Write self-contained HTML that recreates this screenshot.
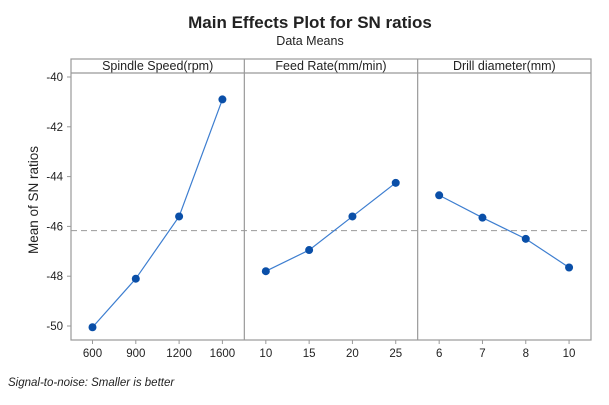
<!DOCTYPE html>
<html><head><meta charset="utf-8"><style>
body{margin:0;background:#fff;}
svg{display:block;font-family:"Liberation Sans",sans-serif;}
</style></head><body>
<svg width="609" height="405" xmlns="http://www.w3.org/2000/svg">
<text x="310" y="28" text-anchor="middle" font-size="17" font-weight="bold" fill="#222">Main Effects Plot for SN ratios</text>
<text x="310" y="45" text-anchor="middle" font-size="12.5" fill="#222">Data Means</text>
<text transform="translate(38,200) rotate(-90)" text-anchor="middle" font-size="13.5" fill="#222">Mean of SN ratios</text>
<text x="8" y="386" font-size="11.5" font-style="italic" fill="#222">Signal-to-noise: Smaller is better</text>
<g id="plot"></g>
</svg>
<script>
const panelTitles = ["Spindle Speed(rpm)", "Feed Rate(mm/min)", "Drill diameter(mm)"];
const levels1 = ["600", "900", "1200", "1600"];
const levels2 = ["10", "15", "20", "25"];
const levels3 = ["6", "7", "8", "10"];
const values1 = [-50.05, -48.1, -45.6, -40.9];
const values2 = [-47.8, -46.95, -45.6, -44.25];
const values3 = [-44.75, -45.65, -46.5, -47.65];
const yTicks = [-50, -48, -46, -44, -42, -40];
const meanLine = -46.17;

const NS = "http://www.w3.org/2000/svg";
const g = document.getElementById("plot");
const L = 71, R = 591, T = 59, SB = 73, B = 340;
const pw = (R - L) / 3;
function y(v){ return 326 + (v - (-50)) * (-24.9); }
function x(p, i){ return L + p*pw + 21.5 + i * 43.3; }
function el(tag, attrs){ const e = document.createElementNS(NS, tag); for (const k in attrs) e.setAttribute(k, attrs[k]); g.appendChild(e); return e; }

const levels = [levels1, levels2, levels3];
const values = [values1, values2, values3];

let f = el("rect", {x:L, y:T, width:R-L, height:B-T, fill:"none", stroke:"#999", "stroke-width":1.2});


let sl = el("line", {x1:L, x2:R, y1:SB, y2:SB, stroke:"#999", "stroke-width":1.2});


for (let p = 1; p < 3; p++) {
  const d = el("line", {x1:L+p*pw, x2:L+p*pw, y1:T, y2:B, stroke:"#999", "stroke-width":1.2});
  
  
}
yTicks.forEach(v => {
  const t = el("line", {x1:L-4, x2:L, y1:y(v), y2:y(v), stroke:"#999"});
  
  
  const lb = el("text", {x:L-8, y:y(v)+4, "text-anchor":"end", "font-size":"11.5", fill:"#222"});
  lb.textContent = v;
  
  
});
const ml = el("line", {x1:L, x2:R, y1:y(meanLine), y2:y(meanLine), stroke:"#999", "stroke-dasharray":"6 4", "stroke-width":1});



for (let p = 0; p < 3; p++) {
  const st = el("text", {x:L+p*pw+pw/2, y:T+11, "text-anchor":"middle", "font-size":"12.5", fill:"#222"});
  st.textContent = panelTitles[p];
  
  
  const pts = values[p].map((v,i) => x(p,i)+","+y(v)).join(" ");
  const pl = el("polyline", {points:pts, fill:"none", stroke:"#3d7ed0", "stroke-width":1.2});
  
  
  levels[p].forEach((lv, i) => {
    const tk = el("line", {x1:x(p,i), x2:x(p,i), y1:B, y2:B+4, stroke:"#999"});
    
    
    const tl = el("text", {x:x(p,i), y:B+17, "text-anchor":"middle", "font-size":"11.5", fill:"#222"});
    tl.textContent = lv;
    
    
    const c = el("circle", {cx:x(p,i), cy:y(values[p][i]), r:4, fill:"#0a4fa8"});
    
    
  });
}
</script>
</body></html>
